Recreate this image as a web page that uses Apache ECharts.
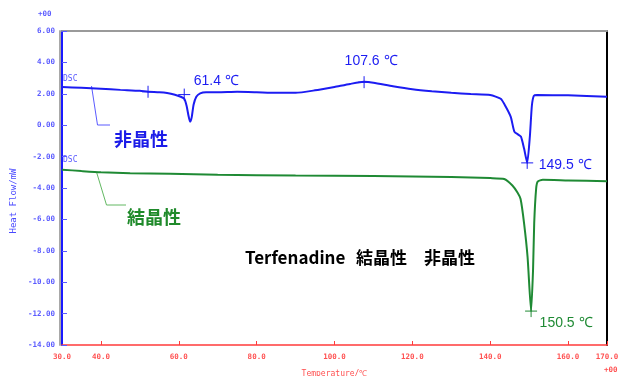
<!DOCTYPE html>
<html>
<head>
<meta charset="utf-8">
<style>
  html, body { margin: 0; padding: 0; background: #fff; }
  #chart { width: 626px; height: 376px; }
</style>
<script src="https://cdn.jsdelivr.net/npm/echarts@6/dist/echarts.min.js"></script>
</head>
<body>
<div id="chart"></div>
<script>
// DSC traces of terfenadine: amorphous (非晶性) and crystalline (結晶性) samples
const amorphTemp = [30, 35, 40, 45, 50, 52.1, 55, 57, 59, 60.5, 61.4, 62.0, 62.5, 62.9, 63.3, 63.8, 64.5, 65.5, 67, 70, 75, 80, 85, 90, 95, 100, 104, 107.6, 110, 115, 120, 125, 130, 135, 140, 142.7, 144, 145.3, 146.2, 147.2, 147.9, 148.7, 149.5, 150.2, 150.7, 151.2, 152, 160, 170];
const amorphHeat = [2.44, 2.38, 2.32, 2.25, 2.19, 2.13, 2.10, 2.05, 1.94, 1.81, 1.68, 1.24, 0.60, 0.22, 0.48, 1.30, 1.81, 2.03, 2.10, 2.10, 2.13, 2.10, 2.06, 2.06, 2.22, 2.44, 2.63, 2.76, 2.70, 2.48, 2.29, 2.16, 2.06, 1.98, 1.92, 1.68, 1.17, 0.51, -0.41, -0.60, -0.73, -1.49, -2.40, -0.67, 1.24, 1.87, 1.92, 1.90, 1.81];

const crystTemp = [30, 35, 40, 47.5, 57.8, 70, 90, 110, 130, 140, 143.6, 145.7, 147, 147.8, 148.7, 149.6, 150.5, 151.0, 151.3, 151.8, 152.2, 153.5, 160, 170];
const crystHeat = [-2.83, -2.92, -3.00, -3.06, -3.10, -3.16, -3.21, -3.24, -3.30, -3.37, -3.43, -3.84, -4.29, -4.70, -6.25, -8.41, -11.84, -9.24, -6.25, -4.03, -3.59, -3.48, -3.52, -3.57];

// analysis cursors placed on the traces; labelled ones show their temperature
const amorphCursorTemp = [52.1, 61.4, 107.6, 149.5];
const amorphCursorHeat = [2.13, 1.95, 2.74, -2.40];
const amorphCursorLabelled = [false, true, true, true];
const crystCursorTemp = [150.5];
const crystCursorHeat = [-11.84];

// axis ticks and labels
const xTickValues = [40, 60, 80, 100, 120, 140, 160, 170];
const xLabelValues = [30, 40, 60, 80, 100, 120, 140, 160, 170];

const BLUE = '#1c1cf2';
const GREEN = '#1f8a34';
const MONO = '"DejaVu Sans Mono", "Liberation Mono", monospace';
const JP = '"Noto Sans CJK JP", "Noto Sans", sans-serif';

const zip = (xs, ys) => xs.map((x, i) => [x, ys[i]]);
const plus = 'path://M0,6L12,6M6,0L6,12';

const chart = echarts.init(document.getElementById('chart'), null, { renderer: 'canvas' });

const labelOffsets = {
  '61.4': { position: 'right', distance: 0, offset: [3, -13] },
  '107.6': { position: 'top', distance: 0, offset: [7, -8] },
  '149.5': { position: 'right', distance: 0, offset: [5, 2] },
  '150.5': { position: 'right', distance: 0, offset: [2, 12] }
};

function cursorData(temps, heats, labelled, color) {
  return temps.map((t, i) => {
    const item = { value: [t, heats[i]] };
    if (labelled[i]) {
      const o = labelOffsets[t.toFixed(1)];
      item.label = Object.assign({
        show: true,
        formatter: p => p.value[0].toFixed(1) + ' ℃',
        color: color,
        opacity: 1,
        fontSize: 14,
        fontFamily: '"Liberation Sans", Arial, sans-serif'
      }, o);
    }
    return item;
  });
}

chart.setOption({
  animation: false,
  backgroundColor: '#fff',
  grid: { left: 62, right: 19, top: 31, bottom: 31, containLabel: false, outerBoundsMode: 'none' },
  xAxis: [{
    type: 'value', min: 30, max: 170, position: 'bottom',
    axisLine: { onZero: false, lineStyle: { color: '#ff3b3b', width: 1.5 } },
    axisTick: { show: true, inside: true, length: 4, customValues: xTickValues, lineStyle: { color: '#ff3b3b' } },
    axisLabel: {
      customValues: xLabelValues, formatter: v => v.toFixed(1),
      color: '#ff5050', fontFamily: MONO, fontSize: 7.5, fontWeight: 'bold', margin: 8
    },
    splitLine: { show: false },
    name: 'Temperature/℃', nameLocation: 'middle', nameGap: 25,
    nameTextStyle: { color: '#ff5050', fontFamily: MONO, fontSize: 8 }
  }, {
    type: 'value', min: 30, max: 170, position: 'top',
    axisLine: { onZero: false, lineStyle: { color: '#9a9a9a', width: 2 } },
    axisTick: { show: false }, axisLabel: { show: false }, splitLine: { show: false }
  }],
  yAxis: [{
    type: 'value', min: -14, max: 6, interval: 2, position: 'left',
    axisLine: { show: true, onZero: false, lineStyle: { color: '#1a1aff', width: 2, shadowColor: '#a8a8a8', shadowOffsetX: -2, shadowBlur: 0 } },
    axisTick: { show: true, inside: true, length: 5, lineStyle: { color: '#5a5aff' } },
    axisLabel: { formatter: v => v.toFixed(2), color: '#5a5aff', fontFamily: MONO, fontSize: 7.5, fontWeight: 'bold', margin: 7 },
    splitLine: { show: false }
  }, {
    type: 'value', min: -14, max: 6, interval: 2, position: 'right',
    axisLine: { show: true, onZero: false, lineStyle: { color: '#000', width: 2 } },
    axisTick: { show: false }, axisLabel: { show: false }, splitLine: { show: false }
  }],
  series: [{
    name: '非晶性', type: 'line', data: zip(amorphTemp, amorphHeat),
    symbol: 'none', smooth: 0.2, lineStyle: { color: BLUE, width: 2 }, z: 3
  }, {
    name: '結晶性', type: 'line', data: zip(crystTemp, crystHeat),
    symbol: 'none', smooth: 0.2, lineStyle: { color: GREEN, width: 2 }, z: 3
  }, {
    type: 'scatter', symbol: plus, symbolSize: 12,
    itemStyle: { color: 'rgba(0,0,0,0)', borderColor: BLUE, borderWidth: 1, opacity: 1 },
    data: cursorData(amorphCursorTemp, amorphCursorHeat, amorphCursorLabelled, BLUE), z: 4
  }, {
    type: 'scatter', symbol: plus, symbolSize: 12,
    itemStyle: { color: 'rgba(0,0,0,0)', borderColor: GREEN, borderWidth: 1, opacity: 1 },
    data: cursorData(crystCursorTemp, crystCursorHeat, [true], GREEN), z: 4
  }],
  graphic: [
    { type: 'text', left: 38, top: 10, style: { text: '+00', fill: '#5a5aff', font: 'bold 7.5px ' + MONO } },
    { type: 'text', left: 604, top: 366, style: { text: '+00', fill: '#ff5050', font: 'bold 7.5px ' + MONO } },
    { type: 'text', x: 14, y: 201, rotation: Math.PI / 2, style: { text: 'Heat Flow/mW', fill: '#4a4aff', font: '9px ' + MONO, align: 'center', verticalAlign: 'middle' } },
    { type: 'text', left: 63, top: 75, style: { text: 'DSC', fill: '#5a5aff', font: '8px ' + MONO } },
    { type: 'text', left: 63, top: 156, style: { text: 'DSC', fill: '#5a5aff', font: '8px ' + MONO } },
    { type: 'polyline', shape: { points: [[91.5, 86], [97.5, 125], [110, 125]] }, style: { stroke: '#5a5aff', lineWidth: 1, fill: null } },
    { type: 'polyline', shape: { points: [[96.5, 172], [106.5, 205], [126, 205]] }, style: { stroke: '#62b862', lineWidth: 1, fill: null } },
    { type: 'text', left: 114, top: 130, style: { text: '非晶性', fill: '#1c1ce8', font: 'bold 18px ' + JP } },
    { type: 'text', left: 127, top: 208, style: { text: '結晶性', fill: '#1f8a2a', font: 'bold 18px ' + JP } },
    { type: 'text', left: 245, top: 249, style: { text: 'Terfenadine', fill: '#000', font: 'bold 17px ' + JP } },
    { type: 'text', left: 356, top: 249, style: { text: '結晶性', fill: '#000', font: 'bold 17px ' + JP } },
    { type: 'text', left: 424, top: 249, style: { text: '非晶性', fill: '#000', font: 'bold 17px ' + JP } }
  ]
});
</script>
</body>
</html>
